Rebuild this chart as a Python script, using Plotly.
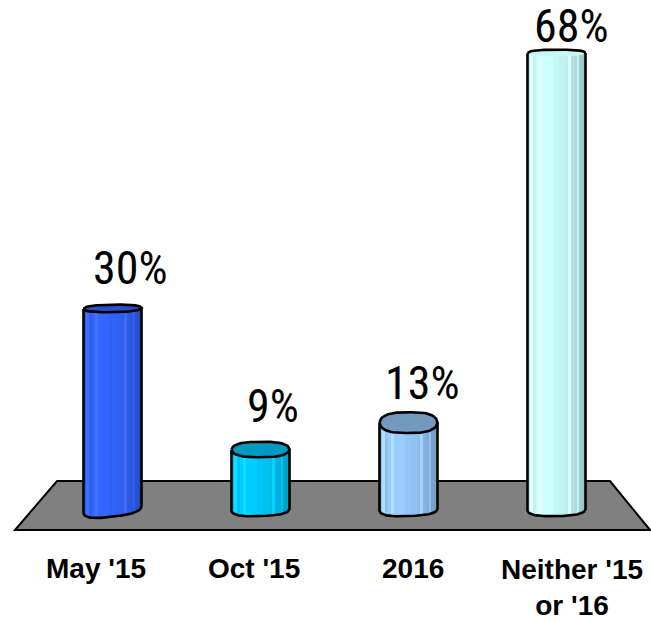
import numpy as np
import plotly.graph_objects as go

categories = ["May '15", "Oct '15", "2016", "Neither '15<br>or '16"]
values = [30, 9, 13, 68]
value_labels = ["30%", "9%", "13%", "68%"]

W, H = 651, 622
base_colors = [(51, 102, 255), (0, 204, 255), (153, 204, 255), (204, 255, 255)]
cap_colors = ["#2a50c8", "#0099bf", "#7399bf", "#c8f6f6"]
cap_half = [0.55, 1.15, 1.55, 0.5]
bot_half = [1.0, 0.9, 0.9, 0.9]
tilt = [1.0, 0.3, 0.3, 0.2]
label_dx = [18, 12, 14, 15]
label_dy = [11, 15, 11, -2]
cat_x = [96, 254, 413, 572]
cat_y = [568, 568, 568, 587]
shades = [0.95, 1.1, 0.95, 1.0, 1.1, 1.0, 1.0, 1.0, 1.0, 0.97, 0.97, 0.95, 0.95, 0.93, 1.03, 0.88, 0.86, 0.95, 0.8, 0.78]

xr = [-112.5 / 148, (W - 112.5) / 148]
yr = [-(H - 510) / 6.72, 510 / 6.72]
half = 0.196


def round_profile(t):
    return (1 - np.abs(t) ** 3.0) ** (1 / 2.0)


fig = go.Figure()
n = len(shades)
step = 2 * half / n
for i, v in enumerate(values):
    t = (np.arange(n) + 0.5) / n * 2 - 1
    xs = i + t * half
    top = np.full(n, float(v))
    base = -bot_half[i] * round_profile(t) + tilt[i] * t * 0.5
    c = base_colors[i]
    cols = [f"rgb({min(255, int(c[0] * s + 10 * (s > 1.02)))},{min(255, int(c[1] * s))},{min(255, int(c[2] * s))})" for s in shades]
    fig.add_trace(go.Bar(x=xs, y=top - base, base=base, width=step * 1.2,
                         marker=dict(color=cols, line=dict(width=0)),
                         hoverinfo="skip", showlegend=False))
    tc = np.linspace(-1, 1, 41)
    upper = v + cap_half[i] * round_profile(tc) + 0.08 * tilt[i] * tc
    lower = v - cap_half[i] * round_profile(tc) + 0.08 * tilt[i] * tc
    if i == 3:
        # the tallest column shows only the rim of its top
        cx = np.concatenate([i + tc * half, i + tc[::-1] * half])
        cy = np.concatenate([upper, lower[::-1]])
        fig.add_trace(go.Scatter(x=cx, y=cy, mode="lines", fill="toself", fillcolor=cap_colors[i],
                                 line=dict(color="rgba(0,0,0,0)", width=0), hoverinfo="skip", showlegend=False))
        fig.add_trace(go.Scatter(x=i + tc * half, y=upper, mode="lines",
                                 line=dict(color="black", width=2.6), hoverinfo="skip", showlegend=False))
    else:
        cx = np.concatenate([i + tc * half, i + tc[::-1] * half, [i - half]])
        cy = np.concatenate([upper, lower[::-1], [upper[0]]])
        fig.add_trace(go.Scatter(x=cx, y=cy, mode="lines", fill="toself", fillcolor=cap_colors[i],
                                 line=dict(color="black", width=2.6), hoverinfo="skip", showlegend=False))
    tb = np.linspace(-1, 1, 41)
    bx = i + tb * half
    by = -bot_half[i] * round_profile(tb) + tilt[i] * tb * 0.5
    ox = np.concatenate([[i - half], bx, [i + half]])
    oy = np.concatenate([[upper[0]], by, [upper[-1]]])
    fig.add_trace(go.Scatter(x=ox, y=oy, mode="lines", line=dict(color="black", width=2.6),
                             hoverinfo="skip", showlegend=False))

annotations = []
for i, (v, s) in enumerate(zip(values, value_labels)):
    annotations.append(dict(x=i, y=v, xref="x", yref="y", text=s, showarrow=False,
                            xanchor="center", yanchor="bottom",
                            xshift=label_dx[i], yshift=label_dy[i],
                            font=dict(family="Roboto Condensed, DejaVu Sans Condensed, Roboto", size=46, color="black")))
for c, px, py in zip(categories, cat_x, cat_y):
    annotations.append(dict(x=px / W, y=1 - py / H, xref="paper", yref="paper", text=c,
                            showarrow=False, xanchor="center", yanchor="middle",
                            font=dict(family="Liberation Sans", size=28, color="black", weight="bold")))

floor_pts = [(57, 481), (610, 481), (650, 530), (15, 530)]
path = "M " + " L ".join(f"{x / W:.4f},{1 - y / H:.4f}" for x, y in floor_pts) + " Z"

fig.update_layout(
    width=W, height=H, margin=dict(l=0, r=0, t=0, b=0),
    paper_bgcolor="white", plot_bgcolor="white", barmode="overlay", bargap=0,
    xaxis=dict(range=xr, visible=False, fixedrange=True),
    yaxis=dict(range=yr, visible=False, fixedrange=True),
    shapes=[dict(type="path", path=path, xref="paper", yref="paper", layer="below",
                 fillcolor="#808080", line=dict(color="black", width=2))],
    annotations=annotations,
)
fig.write_html("out.html", config={"displayModeBar": False},
               post_script="document.body.style.margin='0';document.body.style.overflow='hidden';")
